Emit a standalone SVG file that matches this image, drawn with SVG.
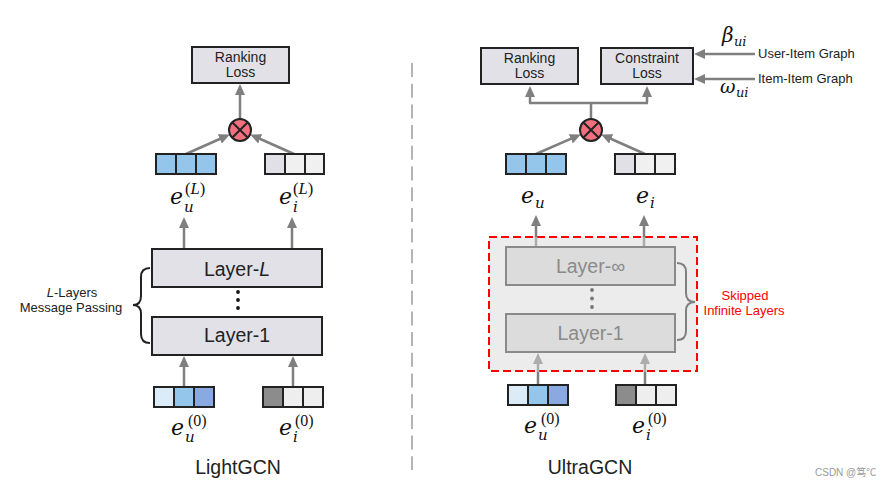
<svg xmlns="http://www.w3.org/2000/svg" width="886" height="487" viewBox="0 0 886 487">
<defs>
<style>
.box{fill:#e3e1e8;stroke:#222;stroke-width:2}
.lbox{fill:#dcdcdc;stroke:#8a8a8a;stroke-width:2}
.cell{stroke:#222;stroke-width:2}
.t{font-family:"Liberation Sans",Arial,sans-serif;fill:#222}
.c{stroke:#7f7f7f;stroke-width:2.5;fill:none}
.cl{stroke:#acacac;stroke-width:2.5;fill:none}
.m{font-family:"DejaVu Serif",serif;font-style:italic;fill:#111}
.s{font-family:"Liberation Serif",serif;fill:#111}
</style>
<marker id="ah" markerUnits="userSpaceOnUse" markerWidth="11" markerHeight="10" viewBox="0 0 11 10" refX="6" refY="5" orient="auto"><path d="M0,0 L11,5 L0,10 z" fill="#7f7f7f"/></marker>
<marker id="ahl" markerUnits="userSpaceOnUse" markerWidth="11" markerHeight="10" viewBox="0 0 11 10" refX="6" refY="5" orient="auto"><path d="M0,0 L11,5 L0,10 z" fill="#acacac"/></marker>
</defs>
<rect width="886" height="487" fill="#fff"/>

<!-- divider -->
<line x1="412" y1="63" x2="412" y2="470" stroke="#b4b4b4" stroke-width="2" stroke-dasharray="14 6.7"/>

<!-- dashed region -->
<g id="skip-region">
<rect x="489" y="237" width="208" height="134" fill="#ececec" stroke="#ff0000" stroke-width="2" stroke-dasharray="8 4"/>
</g>

<g id="connectors">
<!-- left -->
<line class="c" x1="240" y1="119" x2="240" y2="89" marker-end="url(#ah)"/>
<line class="c" x1="186" y1="154" x2="225.3" y2="136.5" marker-end="url(#ah)"/>
<line class="c" x1="294" y1="154" x2="254.7" y2="136.5" marker-end="url(#ah)"/>
<line class="c" x1="184" y1="249" x2="184" y2="222" marker-end="url(#ah)"/>
<line class="c" x1="292" y1="249" x2="292" y2="222" marker-end="url(#ah)"/>
<line class="c" x1="184" y1="387" x2="184" y2="361" marker-end="url(#ah)"/>
<line class="c" x1="293" y1="387" x2="293" y2="361" marker-end="url(#ah)"/>
<!-- right -->
<path class="c" d="M591,119 V103 M529,103 H648"/>
<line class="c" x1="530" y1="103" x2="530" y2="91" marker-end="url(#ah)"/>
<line class="c" x1="647" y1="103" x2="647" y2="91" marker-end="url(#ah)"/>
<line class="c" x1="536" y1="154" x2="576.3" y2="136.4" marker-end="url(#ah)"/>
<line class="c" x1="645" y1="154" x2="605.7" y2="136.5" marker-end="url(#ah)"/>
<line class="c" x1="755" y1="54" x2="699" y2="54" marker-end="url(#ah)"/>
<line class="c" x1="755" y1="79" x2="699" y2="79" marker-end="url(#ah)"/>
<line class="cl" x1="536" y1="247" x2="536" y2="236"/>
<line class="cl" x1="644" y1="247" x2="644" y2="236"/>
<line class="c" x1="536" y1="237" x2="536" y2="220" marker-end="url(#ah)"/>
<line class="c" x1="644" y1="237" x2="644" y2="220" marker-end="url(#ah)"/>
<line class="c" x1="538" y1="385" x2="538" y2="371"/>
<line class="c" x1="645" y1="385" x2="645" y2="371"/>
<line class="cl" x1="538" y1="372" x2="538" y2="358" marker-end="url(#ahl)"/>
<line class="cl" x1="645" y1="372" x2="645" y2="358" marker-end="url(#ahl)"/>
</g>

<!-- LEFT: LightGCN -->
<g id="l-ranking-loss">
<rect class="box" x="192" y="47" width="97" height="36"/>
<text class="t" x="240.5" y="62" font-size="14" text-anchor="middle">Ranking</text>
<text class="t" x="240.5" y="76.5" font-size="14" text-anchor="middle">Loss</text>
</g>
<g id="l-product">
<circle cx="240" cy="130" r="11" fill="#f2707e" stroke="#222" stroke-width="2"/>
<path d="M232.2,122.2 L247.8,137.8 M247.8,122.2 L232.2,137.8" stroke="#222" stroke-width="2"/>
</g>
<g id="l-eu-L">
<rect class="cell" x="156" y="154" width="20" height="20" fill="#93c6ea"/>
<rect class="cell" x="176" y="154" width="20" height="20" fill="#93c6ea"/>
<rect class="cell" x="196" y="154" width="20" height="20" fill="#93c6ea"/>
<text class="m" x="170" y="204" font-size="22">e</text>
<text class="m" x="184" y="212" font-size="15">u</text>
<text class="s" x="185" y="194" font-size="16.5">(<tspan font-style="italic">L</tspan>)</text>
</g>
<g id="l-ei-L">
<rect class="cell" x="265" y="154" width="20" height="20" fill="#e1e0e6"/>
<rect class="cell" x="285" y="154" width="20" height="20" fill="#f0f0f0"/>
<rect class="cell" x="305" y="154" width="19" height="20" fill="#f0f0f0"/>
<text class="m" x="279" y="204" font-size="22">e</text>
<text class="m" x="293" y="212" font-size="15">i</text>
<text class="s" x="293" y="194" font-size="16.5">(<tspan font-style="italic">L</tspan>)</text>
</g>
<g id="l-layer-L">
<rect class="box" x="152" y="249" width="170" height="38"/>
<text class="t" x="237" y="276" font-size="19.5" text-anchor="middle">Layer-<tspan font-style="italic">L</tspan></text>
</g>
<g id="l-dots" fill="#111">
<circle cx="238" cy="292" r="1.9"/>
<circle cx="238" cy="300" r="1.9"/>
<circle cx="238" cy="308" r="1.9"/>
</g>
<g id="l-layer-1">
<rect class="box" x="152" y="317" width="170" height="38"/>
<text class="t" x="237" y="342" font-size="19.5" text-anchor="middle">Layer-1</text>
</g>
<g id="l-brace">
<path d="M150,268 Q141,268 141,277 L141,296 Q141,305 133,305 Q141,305 141,314 L141,334 Q141,343 150,343" fill="none" stroke="#222" stroke-width="2"/>
<text class="t" x="72" y="297" font-size="13" text-anchor="middle"><tspan font-style="italic">L</tspan>-Layers</text>
<text class="t" x="71" y="312" font-size="13" text-anchor="middle">Message Passing</text>
</g>
<g id="l-eu-0">
<rect class="cell" x="154" y="387" width="20" height="20" fill="#dcebf8"/>
<rect class="cell" x="174" y="387" width="20" height="20" fill="#93c6ea"/>
<rect class="cell" x="194" y="387" width="20" height="20" fill="#8aa9e0"/>
<text class="m" x="171" y="435" font-size="22">e</text>
<text class="m" x="185" y="442" font-size="15">u</text>
<text class="s" x="188" y="426" font-size="16">(0)</text>
</g>
<g id="l-ei-0">
<rect class="cell" x="263" y="387" width="20" height="20" fill="#8c8c8c"/>
<rect class="cell" x="283" y="387" width="20" height="20" fill="#eeeeee"/>
<rect class="cell" x="303" y="387" width="20" height="20" fill="#eeeeee"/>
<text class="m" x="279" y="435" font-size="22">e</text>
<text class="m" x="293" y="442" font-size="15">i</text>
<text class="s" x="295" y="426" font-size="16">(0)</text>
</g>
<text class="t" x="238" y="474" font-size="19.5" text-anchor="middle">LightGCN</text>

<!-- RIGHT: UltraGCN -->
<g id="r-ranking-loss">
<rect class="box" x="481" y="48" width="97" height="36"/>
<text class="t" x="529.5" y="63" font-size="14" text-anchor="middle">Ranking</text>
<text class="t" x="529.5" y="77.5" font-size="14" text-anchor="middle">Loss</text>
</g>
<g id="r-constraint-loss">
<rect class="box" x="601" y="48" width="92" height="36"/>
<text class="t" x="647" y="63" font-size="14" text-anchor="middle">Constraint</text>
<text class="t" x="647" y="77.5" font-size="14" text-anchor="middle">Loss</text>
</g>
<g id="r-graph-labels">
<text class="m" x="722" y="42" font-size="20">β</text>
<text class="m" x="734" y="46" font-size="13">ui</text>
<text class="t" x="758" y="58" font-size="13">User-Item Graph</text>
<text class="t" x="758" y="83" font-size="13">Item-Item Graph</text>
<text class="m" x="720" y="93" font-size="19">ω</text>
<text class="m" x="736" y="97" font-size="13">ui</text>
</g>
<g id="r-product">
<circle cx="591" cy="130" r="11" fill="#f2707e" stroke="#222" stroke-width="2"/>
<path d="M583.2,122.2 L598.8,137.8 M598.8,122.2 L583.2,137.8" stroke="#222" stroke-width="2"/>
</g>
<g id="r-eu">
<rect class="cell" x="506" y="154" width="20" height="20" fill="#93c6ea"/>
<rect class="cell" x="526" y="154" width="20" height="20" fill="#93c6ea"/>
<rect class="cell" x="546" y="154" width="20" height="20" fill="#93c6ea"/>
<text class="m" x="521" y="203" font-size="22">e</text>
<text class="m" x="535" y="208" font-size="15">u</text>
</g>
<g id="r-ei">
<rect class="cell" x="615" y="154" width="20" height="20" fill="#e1e0e6"/>
<rect class="cell" x="635" y="154" width="20" height="20" fill="#f0f0f0"/>
<rect class="cell" x="655" y="154" width="20" height="20" fill="#f0f0f0"/>
<text class="m" x="636" y="203" font-size="22">e</text>
<text class="m" x="650" y="208" font-size="15">i</text>
</g>
<g id="r-layer-inf">
<rect class="lbox" x="506" y="247" width="169" height="38"/>
<text class="t" x="590.5" y="273" font-size="19.5" text-anchor="middle" style="fill:#8a8a8a">Layer-∞</text>
</g>
<g id="r-dots" fill="#777">
<circle cx="592" cy="290" r="1.9"/>
<circle cx="592" cy="298.5" r="1.9"/>
<circle cx="592" cy="307" r="1.9"/>
</g>
<g id="r-layer-1">
<rect class="lbox" x="506" y="314" width="169" height="38"/>
<text class="t" x="590.5" y="340" font-size="19.5" text-anchor="middle" style="fill:#8a8a8a">Layer-1</text>
</g>
<g id="r-brace">
<path d="M677,263 Q686,263 686,272 L686,293 Q686,302 695,302 Q686,302 686,311 L686,331 Q686,340 677,340" fill="none" stroke="#7f7f7f" stroke-width="2"/>
<text class="t" x="745" y="300" font-size="13" text-anchor="middle" style="fill:#ff0000">Skipped</text>
<text class="t" x="744" y="315" font-size="13" text-anchor="middle" style="fill:#ff0000">Infinite Layers</text>
</g>
<g id="r-eu-0">
<rect class="cell" x="508" y="385" width="20" height="20" fill="#dcebf8"/>
<rect class="cell" x="528" y="385" width="20" height="20" fill="#93c6ea"/>
<rect class="cell" x="548" y="385" width="20" height="20" fill="#8aa9e0"/>
<text class="m" x="524" y="433" font-size="22">e</text>
<text class="m" x="538" y="440" font-size="15">u</text>
<text class="s" x="541" y="424" font-size="16">(0)</text>
</g>
<g id="r-ei-0">
<rect class="cell" x="616" y="385" width="20" height="20" fill="#8c8c8c"/>
<rect class="cell" x="636" y="385" width="20" height="20" fill="#eeeeee"/>
<rect class="cell" x="656" y="385" width="20" height="20" fill="#eeeeee"/>
<text class="m" x="632" y="433" font-size="22">e</text>
<text class="m" x="646" y="440" font-size="15">i</text>
<text class="s" x="648" y="424" font-size="16">(0)</text>
</g>
<text class="t" x="590" y="474" font-size="19.5" text-anchor="middle">UltraGCN</text>

<text x="815" y="476" font-size="10" fill="#9a9a9a" font-family="'Liberation Sans','Noto Sans CJK SC',sans-serif">CSDN @笃℃</text>
</svg>
